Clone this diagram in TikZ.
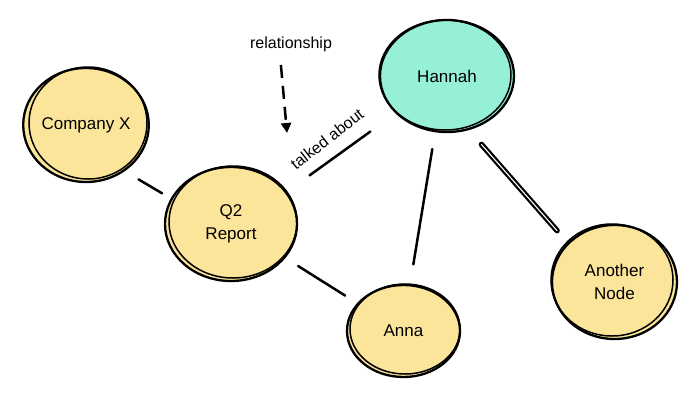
\documentclass[tikz,border=0pt]{standalone}
\usepackage{fontspec}
\setmainfont{Liberation Sans}
\usetikzlibrary{shapes.geometric,arrows.meta}
\definecolor{yelfill}{HTML}{FBE59B}
\definecolor{teafill}{HTML}{96F0D7}
\begin{document}
\begin{tikzpicture}[x=1pt,y=-1pt,
  bubble/.style={ellipse, draw=black, line width=2.3pt, inner sep=0pt, align=center, font=\fontsize{17}{23}\selectfont},
  yel/.style={bubble, fill=yelfill},
  tea/.style={bubble, fill=teafill},
  sketch/.style={draw=black, line width=1.5pt},
  link/.style={draw=black, line width=2.5pt, line cap=round},
  dbl/.style={draw=black, line width=2.2pt, double=white, double distance=1.1pt, line cap=round},
  lbl/.style={font=\fontsize{16}{19}\selectfont}]
\useasboundingbox (0,0) rectangle (700,400);
% nodes
\node[yel, minimum width=122pt, minimum height=114pt] (cx) at (86,125) {Company X};
\draw[sketch] (88,123) ellipse [x radius=59pt, y radius=56pt];
\node[yel, minimum width=132pt, minimum height=114pt] (q2) at (231,224) {Q2\\Report};
\draw[sketch] (233,222) ellipse [x radius=64pt, y radius=56pt];
\node[tea, minimum width=134pt, minimum height=112pt] (han) at (447,76) {Hannah};
\draw[sketch] (445,75) ellipse [x radius=66pt, y radius=55pt];
\node[yel, minimum width=113pt, minimum height=92pt] (anna) at (403.5,331) {Anna};
\draw[sketch] (405,329) ellipse [x radius=55pt, y radius=45pt];
\node[yel, minimum width=125pt, minimum height=114pt] (an) at (614.5,282) {Another\\Node};
\draw[sketch] (612,280) ellipse [x radius=61pt, y radius=56pt];
% connectors
\draw[link, shorten <=16pt, shorten >=10pt] (cx.-50) -- (q2.157);
\draw[link, shorten <=15pt, shorten >=14pt] (q2.-32) -- (anna.149);
\draw[link, shorten <=20pt, shorten >=17pt] (anna.82) -- (han.-102);
\draw[dbl, shorten <=19pt, shorten >=16pt] (han.-68.5) -- (an.140);
\draw[link, shorten <=28pt, shorten >=31pt] (q2.30) -- (han.-144);
% labels
\node[lbl, rotate=38] (ta) at (327,139) {talked about};
\node[lbl] (rel) at (291,44) {relationship};
\coordinate (tip) at (287,133);
\draw[link, line cap=butt, dash pattern=on 13pt off 8pt, -{Triangle[length=10pt,width=10pt]}, shorten <=10pt] ([xshift=-11pt]rel.south) -- (tip);
\end{tikzpicture}
\end{document}
